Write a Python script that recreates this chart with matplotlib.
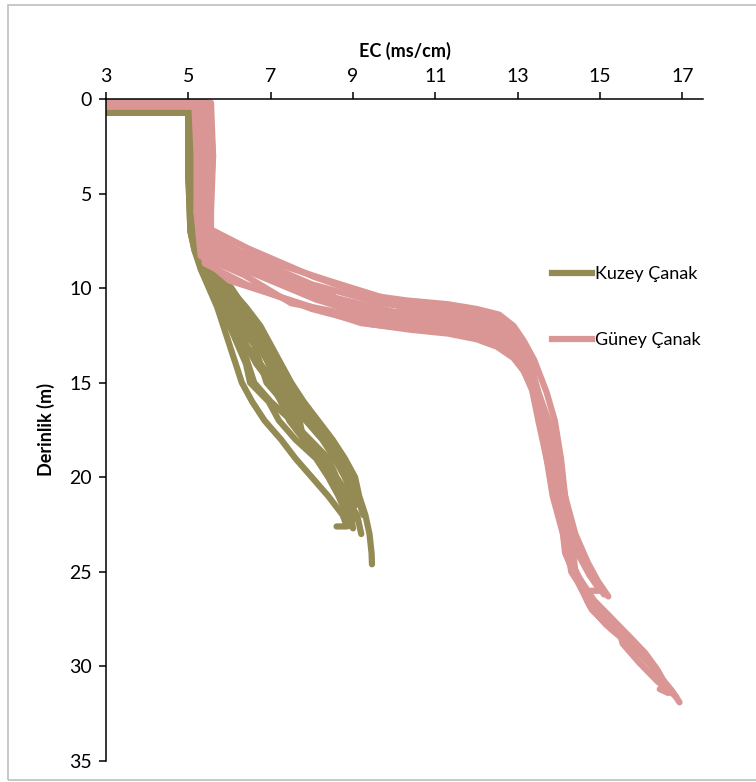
import matplotlib
matplotlib.use('Agg')
import matplotlib.pyplot as plt
from matplotlib.lines import Line2D
from matplotlib.patches import Rectangle

plt.rcParams['font.family'] = ['Lato', 'DejaVu Sans']

# Kuzey Çanak profilleri (derinlik m, EC ms/cm)
kuzey_derinlik = [
    [0.7, 0.7, 4, 7, 8, 9, 10, 11, 12, 13, 14, 15, 16, 17, 18, 19, 20, 21, 22, 22.6, 22.6],
    [0.7, 0.7, 4, 7, 8, 9, 10, 11, 12, 13, 14, 15, 16, 17, 18, 19, 20, 21, 22, 23, 24, 24.6],
    [0.7, 0.7, 4, 7, 8, 9, 10, 11, 12, 13, 14, 15, 16, 17, 18, 19, 20, 21, 22, 22.7],
    [0.7, 0.7, 4, 7, 8, 9, 10, 11, 12, 13, 14, 15, 16, 17, 18, 19, 20, 21, 22, 22.6],
    [0.7, 0.7, 4, 7, 8, 9, 10, 11, 12, 13, 14, 15, 16, 17, 18, 19, 20, 21, 21.5],
    [0.7, 0.7, 4, 7, 8, 9, 10, 11, 12, 13, 14, 15, 16, 17, 18, 19, 20, 21, 22, 22.2],
    [0.7, 0.7, 4, 7, 8, 9, 10, 11, 12, 13, 14, 15, 16, 17, 18, 19, 20, 21, 22, 23],
    [0.7, 0.7, 4, 7, 8, 9, 10, 11, 12, 13, 14, 15, 16, 17, 18, 19, 20, 21],
    [0.7, 0.7, 4, 7, 8, 9, 10, 11, 12, 13, 14, 15, 16, 17, 18, 19, 20, 21, 22, 22.5],
    [0.7, 0.7, 4, 7, 8, 9, 10, 11, 12, 13, 14, 15, 16, 17, 18, 19, 20, 21, 22],
]
kuzey_ec = [
    [3, 5.0, 5.0, 5.05, 5.15, 5.3, 5.5, 5.7, 5.85, 6.0, 6.15, 6.3, 6.55, 6.85, 7.25, 7.6, 8.0, 8.4, 8.75, 8.85, 8.6],
    [3, 5.05, 5.1, 5.15, 5.3, 5.6, 6.0, 6.4, 6.75, 7.0, 7.25, 7.5, 7.8, 8.15, 8.5, 8.8, 9.05, 9.15, 9.3, 9.4, 9.45, 9.46],
    [3, 5.0, 5.05, 5.1, 5.2, 5.4, 5.7, 5.95, 6.3, 6.4, 6.75, 6.9, 7.3, 7.5, 7.95, 8.4, 8.6, 8.9, 8.95, 9.0],
    [3, 5.0, 5.0, 5.1, 5.2, 5.35, 5.55, 5.75, 6.0, 6.3, 6.45, 6.6, 7.0, 7.5, 7.85, 8.3, 8.5, 8.75, 8.95, 8.95],
    [3, 5.05, 5.1, 5.1, 5.25, 5.5, 5.85, 6.2, 6.5, 6.75, 6.95, 7.15, 7.45, 7.85, 8.25, 8.55, 8.8, 9.0, 9.05],
    [3, 5.0, 5.05, 5.1, 5.25, 5.45, 5.75, 6.1, 6.25, 6.6, 6.75, 7.1, 7.25, 7.7, 7.8, 8.3, 8.45, 8.9, 9.0, 9.05],
    [3, 5.0, 5.0, 5.05, 5.15, 5.35, 5.6, 5.9, 6.15, 6.4, 6.65, 7.0, 7.25, 7.45, 7.8, 8.15, 8.45, 8.8, 9.1, 9.2],
    [3, 5.0, 5.05, 5.15, 5.3, 5.5, 5.8, 6.1, 6.4, 6.7, 6.95, 7.2, 7.55, 7.95, 8.35, 8.65, 8.9, 9.1],
    [3, 5.0, 5.0, 5.1, 5.2, 5.35, 5.55, 5.8, 6.0, 6.2, 6.4, 6.5, 6.95, 7.2, 7.6, 8.1, 8.4, 8.65, 8.85, 8.9],
    [3, 5.05, 5.1, 5.15, 5.35, 5.65, 6.05, 6.35, 6.65, 6.9, 7.1, 7.35, 7.65, 8.0, 8.4, 8.7, 8.95, 9.1, 9.25],
]

# Güney Çanak profilleri
guney_derinlik = [
    [0.2, 0.2, 3, 6, 6.9, 7.9, 9.4, 10.35, 10.65, 10.85, 11.1, 11.4, 12.0, 12.8, 13.8, 15.5, 17, 19, 21, 23, 24.5, 25.5, 26.3],
    [0.3, 0.3, 3, 6, 7.1, 8.1, 9.6, 10.55, 10.85, 11.05, 11.3, 11.6, 12.2, 13.0, 14.0, 15.5, 17, 19, 21, 23, 24.5, 25.5, 26.0, 26.0],
    [0.4, 0.4, 3, 6, 7.3, 8.3, 9.8, 10.75, 11.05, 11.25, 11.5, 11.8, 12.4, 13.2, 14.2, 15.5, 17, 19, 21, 23, 25, 26, 27, 28, 28.8, 29.5, 30.5, 31.3, 31.9],
    [0.2, 0.2, 3, 6, 7.5, 8.5, 10.0, 10.95, 11.25, 11.45, 11.7, 12.0, 12.6, 13.4, 14.4, 15.5, 17, 19, 21, 23, 25, 26.5, 27.5, 28.5, 29.3, 30.2, 31.0, 31.4, 31.2],
    [0.3, 0.3, 3, 6, 7.7, 8.7, 10.2, 11.15, 11.45, 11.65, 11.9, 12.2, 12.8, 13.6, 14.6, 16, 18, 20, 22, 24, 25.5, 27, 28, 29, 30, 30.8],
    [0.3, 0.3, 3, 6, 7.9, 8.9, 10.4, 11.35, 11.65, 11.85, 12.1, 12.4, 13.0, 13.8, 14.8, 16, 18, 20, 22, 24, 25.5, 26.6, 27.4, 28.3, 29.2, 30, 30.6],
    [0.2, 0.2, 3, 6, 8.1, 9.1, 10.6, 11.5, 11.8, 12.0, 12.3, 12.6, 13.2, 14.0, 15.0, 16.5, 18, 20, 22, 24, 25.8, 27, 28, 29, 30, 31],
    [0.4, 0.4, 3, 6, 8.3, 9.3, 10.8, 11.7, 12.0, 12.2, 12.5, 12.8, 13.4, 14.2, 15.2, 16.5, 18, 20, 22, 24, 25.2, 26.2],
    [0.3, 0.3, 3, 6, 8.5, 9.6, 11.0, 11.85, 12.15, 12.35, 12.65, 13.0, 13.55, 14.3, 15.3, 17, 19, 21, 23, 25, 26.5, 27.3, 28, 28.8, 29.8, 30.8, 31.6],
    [0.2, 0.2, 3, 6, 8.7, 9.8, 11.1, 11.9, 12.2, 12.4, 12.7, 13.1, 13.7, 14.4, 15.4, 17, 19, 21, 23, 24.5, 25.8, 26.8, 27.8, 28.6, 29.4],
]
guney_ec = [
    [3, 5.55, 5.6, 5.55, 5.55, 6.45, 8.05, 9.3, 10.3, 11.3, 12.0, 12.55, 12.9, 13.15, 13.4, 13.7, 13.9, 14.05, 14.15, 14.4, 14.7, 14.95, 15.2],
    [3, 5.35, 5.45, 5.4, 5.45, 6.3, 8.4, 9.8, 10.4, 11.2, 11.9, 12.45, 12.8, 13.05, 13.3, 13.5, 13.7, 13.85, 14.0, 14.3, 14.6, 14.85, 15.0, 14.75],
    [3, 5.2, 5.25, 5.2, 5.3, 6.4, 8.0, 9.6, 10.4, 11.0, 12.05, 12.55, 12.95, 13.2, 13.35, 13.45, 13.55, 13.7, 13.95, 14.15, 14.3, 14.6, 14.95, 15.35, 15.8, 16.1, 16.45, 16.75, 16.93],
    [3, 5.45, 5.5, 5.45, 5.5, 6.5, 7.6, 9.4, 10.0, 11.25, 11.95, 12.5, 12.9, 13.15, 13.35, 13.5, 13.75, 14.0, 14.15, 14.3, 14.4, 14.85, 15.3, 15.75, 16.1, 16.4, 16.6, 16.65, 16.45],
    [3, 5.3, 5.35, 5.35, 5.4, 6.35, 7.95, 9.25, 10.25, 11.3, 12.0, 12.5, 12.85, 13.1, 13.3, 13.5, 13.75, 13.9, 14.05, 14.15, 14.45, 14.8, 15.25, 15.8, 16.25, 16.5],
    [3, 5.25, 5.3, 5.3, 5.35, 6.9, 8.5, 9.1, 10.3, 11.25, 11.95, 12.45, 12.9, 13.2, 13.4, 13.55, 13.8, 13.95, 14.1, 14.2, 14.5, 14.7, 15.05, 15.5, 16.0, 16.3, 16.45],
    [3, 5.5, 5.6, 5.5, 5.45, 6.45, 8.1, 9.45, 10.4, 11.3, 12.0, 12.5, 12.85, 13.1, 13.35, 13.55, 13.7, 13.9, 14.05, 14.2, 14.6, 14.9, 15.35, 15.85, 16.3, 16.6],
    [3, 5.15, 5.2, 5.2, 5.3, 6.35, 7.5, 9.7, 10.8, 11.3, 11.95, 12.45, 12.85, 13.1, 13.35, 13.5, 13.65, 13.85, 14.05, 14.45, 14.75, 15.1],
    [3, 5.4, 5.45, 5.4, 5.4, 6.0, 8.0, 9.2, 10.4, 11.6, 12.0, 12.45, 12.9, 13.15, 13.4, 13.65, 13.9, 14.05, 14.2, 14.35, 14.8, 15.2, 15.45, 15.55, 15.95, 16.4, 16.85],
    [3, 5.3, 5.35, 5.3, 5.4, 6.4, 8.0, 9.4, 10.4, 11.3, 12.0, 12.5, 12.9, 13.15, 13.35, 13.5, 13.7, 13.85, 14.1, 14.25, 14.55, 14.75, 15.15, 15.65, 16.1],
]

seri_adlari = ['Kuzey Çanak', 'Güney Çanak']
renk_kuzey = '#948A54'
renk_guney = '#D99694'

fig = plt.figure(figsize=(7.56, 7.82), dpi=100)
ax = fig.add_axes([106 / 756, 1 - 761 / 782, 597 / 756, 662 / 782])

for d, e in zip(kuzey_derinlik, kuzey_ec):
    ax.plot(e, d, color=renk_kuzey, lw=4.5, solid_capstyle='round', solid_joinstyle='round')
for d, e in zip(guney_derinlik, guney_ec):
    ax.plot(e, d, color=renk_guney, lw=4.5, solid_capstyle='round', solid_joinstyle='round')

ax.set_xlim(3, 17.5)
ax.set_ylim(35, 0)
ax.set_xticks(range(3, 18, 2))
ax.set_yticks(range(0, 36, 5))
ax.xaxis.tick_top()
ax.xaxis.set_label_position('top')
for s in ['bottom', 'right']:
    ax.spines[s].set_visible(False)
for s in ['top', 'left']:
    ax.spines[s].set_linewidth(1.1)
ax.tick_params(axis='both', direction='out', length=5, width=1.1, labelsize=14, pad=5)
ax.set_xlabel('EC (ms/cm)', fontsize=13, fontweight='bold', labelpad=8)
ax.set_ylabel('Derinlik (m)', fontsize=13, fontweight='bold', labelpad=10)

tutamaclar = [Line2D([0], [0], color=renk_kuzey, lw=4.5),
              Line2D([0], [0], color=renk_guney, lw=4.5)]
ax.legend(tutamaclar, seri_adlari, loc='upper left', frameon=False,
          bbox_to_anchor=(536 / 756, 1 - 250 / 782), bbox_transform=fig.transFigure,
          fontsize=13, handlelength=2.2, handletextpad=0.15, labelspacing=2.75)

# grafik çerçevesi
fig.patches.append(Rectangle((8 / 756, 2 / 782), 1.2, 775 / 782, transform=fig.transFigure,
                             fill=False, edgecolor='#BFBFBF', lw=1.2))

fig.savefig('out.png', dpi=100)
